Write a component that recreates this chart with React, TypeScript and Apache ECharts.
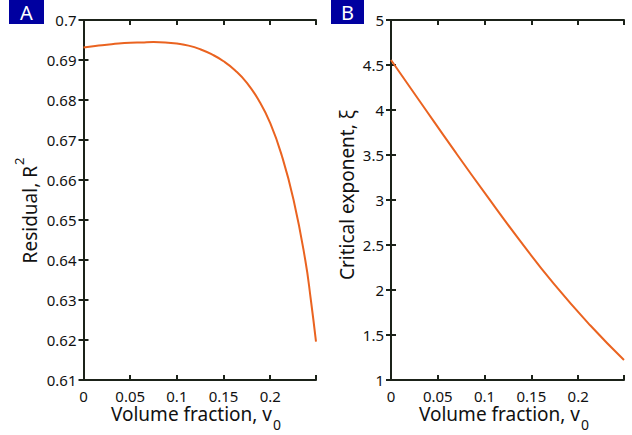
import React, { useEffect, useRef } from "react";
import * as echarts from "echarts";

// Panel A: residual R^2 vs volume fraction v0
const volumeA = [0, 0.0125, 0.025, 0.0375, 0.05, 0.0625, 0.075, 0.0875, 0.1, 0.1125, 0.125, 0.1375, 0.15, 0.1625, 0.175, 0.1875, 0.2, 0.2125, 0.225, 0.2375, 0.2435, 0.249];
const residual = [0.6931, 0.6935, 0.6938, 0.6941, 0.6943, 0.6944, 0.6945, 0.6944, 0.6941, 0.6936, 0.6927, 0.6914, 0.6897, 0.6874, 0.6843, 0.68, 0.6742, 0.666, 0.655, 0.64, 0.63, 0.6196];

// Panel B: critical exponent xi vs volume fraction v0
const volumeB = [0, 0.0311, 0.0668, 0.1025, 0.1382, 0.1739, 0.2131, 0.249];
const exponent = [4.555, 4.092, 3.562, 3.045, 2.543, 2.07, 1.605, 1.222];

const xMin = 0;
const xMax = 0.249;
const xStep = 0.05;
const yA = { min: 0.61, max: 0.7, step: 0.01 };
const yB = { min: 1, max: 5, step: 0.5 };

const FONT = "Noto Sans";
const AXIS = "#1b2219";
const LINE = "#ea6320";
const NAVY = "#0000a0";
const TXT = "#111";

export default function App() {
  const ref = useRef<HTMLDivElement>(null);
  useEffect(() => {
    if (!ref.current) return;
    const chart = echarts.init(ref.current, undefined, { renderer: "svg" });

    const axisLine = { show: true, lineStyle: { color: AXIS, width: 2 } };
    const tick = { show: true, inside: true, length: 5, lineStyle: { color: AXIS, width: 2 } };
    const lab = { color: TXT, fontFamily: FONT, fontSize: 15, lineHeight: 15 };

    const xAxisFor = (gi: number) => [
      {
        type: "value", gridIndex: gi, position: "bottom", min: xMin, max: xMax, interval: xStep,
        axisLine, axisTick: tick, splitLine: { show: false },
        axisLabel: { ...lab, margin: 8, formatter: (v: number) => (v > 0.21 ? "" : String(v)) },
      },
      {
        type: "value", gridIndex: gi, position: "top", min: xMin, max: xMax, interval: xStep,
        axisLine, axisTick: tick, splitLine: { show: false }, axisLabel: { show: false },
      },
    ];
    const yAxisFor = (gi: number, r: { min: number; max: number; step: number }) => [
      {
        type: "value", gridIndex: gi, position: "left", min: r.min, max: r.max, interval: r.step,
        axisLine, axisTick: tick, splitLine: { show: false },
        axisLabel: { ...lab, margin: 7 },
      },
      {
        type: "value", gridIndex: gi, position: "right", min: r.min, max: r.max, interval: r.step,
        axisLine, axisTick: tick, splitLine: { show: false }, axisLabel: { show: false },
      },
    ];

    const txt = (x: number, y: number, text: string, size: number, align: string, rotation = 0, fill = TXT) => ({
      type: "text", x, y, rotation,
      style: { text, fill, font: `${size}px ${FONT}`, align, verticalAlign: "middle", lineHeight: size },
    });

    chart.setOption({
      animation: false,
      backgroundColor: "#fff",
      grid: [
        { left: 83.5, top: 20, width: 232.5, height: 360 },
        { left: 391, top: 20, width: 233, height: 360 },
      ],
      xAxis: [...xAxisFor(0), ...xAxisFor(1)],
      yAxis: [...yAxisFor(0, yA), ...yAxisFor(1, yB)],
      series: [
        {
          type: "line", xAxisIndex: 0, yAxisIndex: 0, showSymbol: false, smooth: 0.5,
          lineStyle: { color: LINE, width: 2 },
          data: volumeA.map((v, i) => [v, residual[i]]),
        },
        {
          type: "line", xAxisIndex: 2, yAxisIndex: 2, showSymbol: false, smooth: 0.5,
          lineStyle: { color: LINE, width: 2 },
          data: volumeB.map((v, i) => [v, exponent[i]]),
        },
      ],
      graphic: [
        { type: "rect", shape: { x: 9, y: 0, width: 35, height: 24 }, style: { fill: NAVY } },
        txt(26.5, 12.5, "A", 20, "center", 0, "#fff"),
        { type: "rect", shape: { x: 331, y: 0, width: 33, height: 24 }, style: { fill: NAVY } },
        txt(347.5, 12.5, "B", 20, "center", 0, "#fff"),
        // y-axis names (rotated)
        txt(30, 166, "Residual, R", 19, "right", Math.PI / 2),
        txt(19, 165, "2", 13, "left", Math.PI / 2),
        txt(347, 195, "Critical exponent, ξ", 19, "center", Math.PI / 2),
        // x-axis names with subscript
        txt(272, 414, "Volume fraction, v", 19, "right"),
        txt(273, 424, "0", 14, "left"),
        txt(580, 414, "Volume fraction, v", 19, "right"),
        txt(581, 424, "0", 14, "left"),
      ],
    });
    return () => chart.dispose();
  }, []);
  return <div ref={ref} style={{ position: "fixed", left: 0, top: 0, width: 632, height: 435 }} />;
}
